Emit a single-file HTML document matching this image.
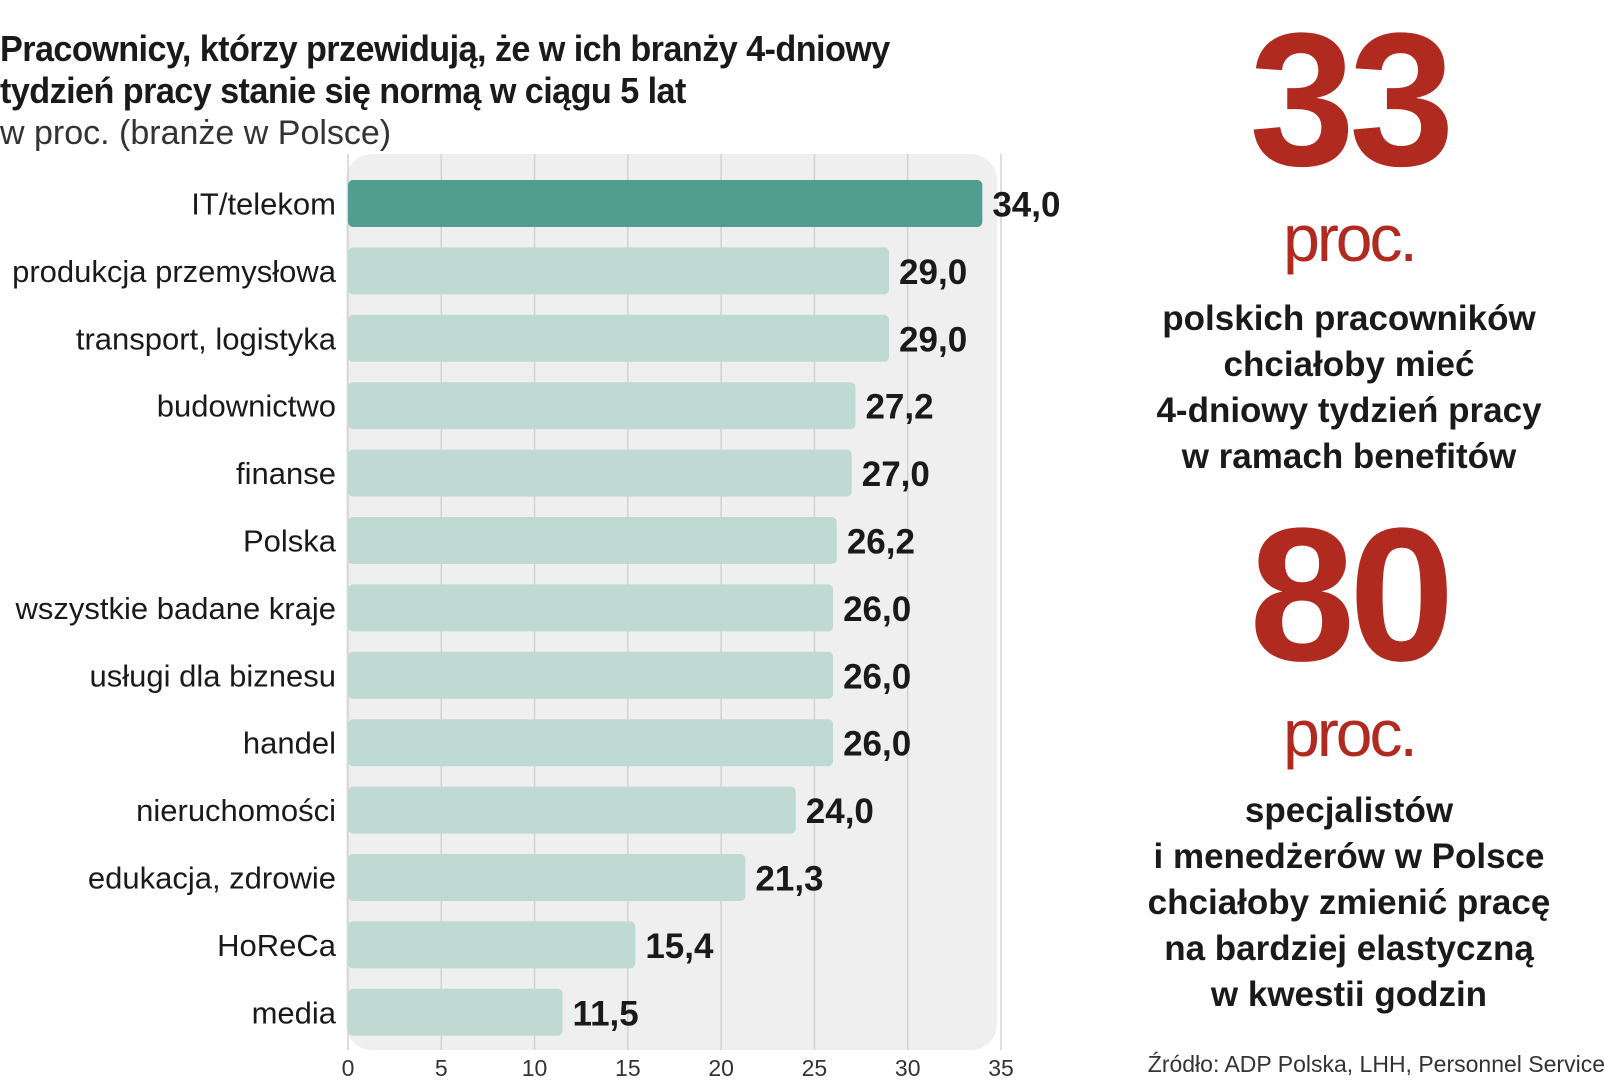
<!DOCTYPE html>
<html><head><meta charset="utf-8">
<style>
html,body{margin:0;padding:0;background:#fff;}
body{width:1605px;height:1080px;position:relative;overflow:hidden;font-family:"Liberation Sans",sans-serif;color:#1a1a1a;}
.t{position:absolute;white-space:nowrap;}
.narrow{font-family:"Liberation Sans Narrow","Liberation Sans",sans-serif;}
</style></head>
<body>
<div class="t narrow" style="left:0;top:28px;font-size:36px;font-weight:bold;line-height:42px;letter-spacing:-0.6px;transform:scaleX(0.95);transform-origin:0 0;">Pracownicy, którzy przewidują, że w ich branży 4-dniowy<br>tydzień pracy stanie się normą w ciągu 5 lat</div>
<div class="t narrow" style="left:0;top:114px;font-size:34px;color:#333;">w proc. (branże w Polsce)</div>

<svg id="chart" style="position:absolute;left:0;top:0" width="1060" height="1080"></svg>

<div class="t" style="left:1249px;top:5px;width:200px;text-align:center;font-size:190px;font-weight:bold;color:#b02a20;letter-spacing:-6px;line-height:190px;">33</div>
<div class="t" style="left:1249px;top:200px;width:200px;text-align:center;font-size:66px;color:#b02a20;letter-spacing:-3px;">proc.</div>
<div class="t narrow" style="left:1149px;top:296px;width:400px;text-align:center;font-size:35px;line-height:46px;font-weight:bold;color:#1a1a1a;">polskich pracowników<br>chciałoby mieć<br>4-dniowy tydzień pracy<br>w ramach benefitów</div>

<div class="t" style="left:1249px;top:500px;width:200px;text-align:center;font-size:190px;font-weight:bold;color:#b02a20;letter-spacing:-6px;line-height:190px;">80</div>
<div class="t" style="left:1249px;top:695px;width:200px;text-align:center;font-size:66px;color:#b02a20;letter-spacing:-3px;">proc.</div>
<div class="t narrow" style="left:1099px;top:788px;width:500px;text-align:center;font-size:35px;line-height:46px;font-weight:bold;color:#1a1a1a;">specjalistów<br>i menedżerów w Polsce<br>chciałoby zmienić pracę<br>na bardziej elastyczną<br>w kwestii godzin</div>

<div class="t narrow" style="right:0;top:1051px;font-size:23px;color:#333;">Źródło: ADP Polska, LHH, Personnel Service</div>

<script>
const categories = ["IT/telekom","produkcja przemysłowa","transport, logistyka","budownictwo","finanse","Polska","wszystkie badane kraje","usługi dla biznesu","handel","nieruchomości","edukacja, zdrowie","HoReCa","media"];
const values = [34.0,29.0,29.0,27.2,27.0,26.2,26.0,26.0,26.0,24.0,21.3,15.4,11.5];
const valueLabels = ["34,0","29,0","29,0","27,2","27,0","26,2","26,0","26,0","26,0","24,0","21,3","15,4","11,5"];
const ticks = [0,5,10,15,20,25,30,35];

const NS="http://www.w3.org/2000/svg";
const svg=document.getElementById('chart');
const x0=348, x1=1001, xMax=35;
const xs=v=>x0+(v/xMax)*(x1-x0);
const rowTop=180, rowStep=67.4, barH=47;
const ys=i=>rowTop+i*rowStep;
function mk(tag,attrs){const e=document.createElementNS(NS,tag);for(const k in attrs)e.setAttribute(k,attrs[k]);svg.appendChild(e);return e;}

const panel=mk('rect',{x:x0-2,y:154,width:xs(35)-x0-2,height:896,rx:26,fill:'#efefef'});



ticks.forEach(t=>{
  const g=mk('line',{x1:xs(t),x2:xs(t),y1:154,y2:1050,stroke:'#d2d2d2','stroke-width':1.5});
  
  
  const tl=mk('text',{x:xs(t),y:1076,'text-anchor':'middle','font-size':23,fill:'#333','font-family':'Liberation Sans Narrow, Liberation Sans, sans-serif'});
  tl.textContent=t;
  
  
});

categories.forEach((c,i)=>{
  const y=ys(i);
  const b=mk('rect',{x:x0,y:y,width:xs(values[i])-x0,height:barH,rx:5,fill:i===0?'#519d90':'#bfdad2'});
  
  
  const l=mk('text',{x:336,y:y+barH/2+11,'text-anchor':'end','font-size':31,fill:'#1a1a1a','font-family':'Liberation Sans, sans-serif'});
  l.textContent=c;
  
  
  const v=mk('text',{x:xs(values[i])+10,y:y+barH/2+13,'font-size':35,'font-weight':'bold',fill:'#1a1a1a','font-family':'Liberation Sans Narrow, Liberation Sans, sans-serif'});
  v.textContent=valueLabels[i];
  
  
});
</script>
</body></html>
